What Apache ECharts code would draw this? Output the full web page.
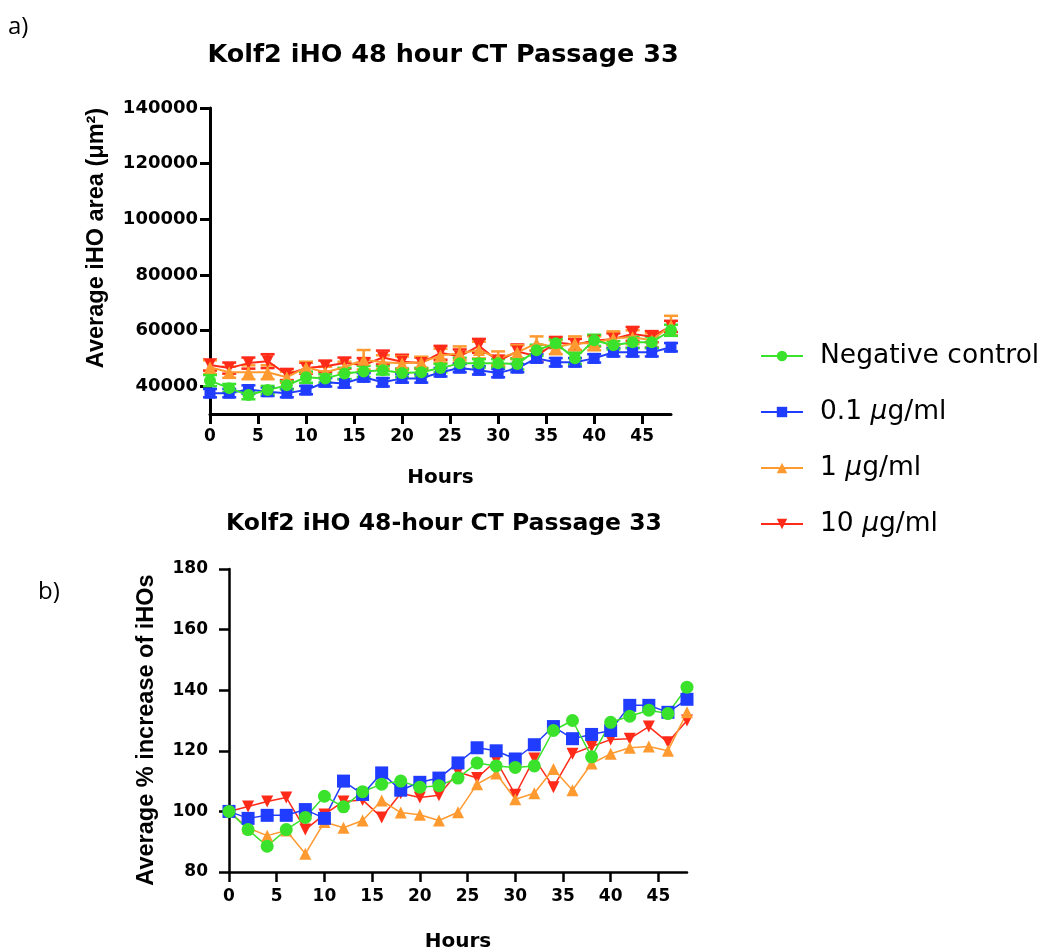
<!DOCTYPE html>
<html>
<head>
<meta charset="utf-8">
<script src="https://cdn.jsdelivr.net/npm/echarts@6/dist/echarts.min.js"></script>
<style>
html,body{margin:0;padding:0;background:#fff;}
#chart{width:1045px;height:952px;}
</style>
</head>
<body>
<div id="chart"></div>
<script>
// ---- data ----
const hours = [0,2,4,6,8,10,12,14,16,18,20,22,24,26,28,30,32,34,36,38,40,42,44,46,48];
const seriesNames = ['Negative control', '0.1 μg/ml', '1 μg/ml', '10 μg/ml'];
const xTicks = [0,5,10,15,20,25,30,35,40,45];
const areaTicks = [40000,60000,80000,100000,120000,140000];
const pctTicks = [80,100,120,140,160,180];

// a) average iHO area (µm²)
const areaNeg  = [42000,39300,36800,38600,40300,43200,42800,44600,45300,45700,44700,45000,46500,48200,48200,48200,48000,52900,55400,50000,56500,54700,55800,55800,60100];
const areaLow  = [37500,37500,38800,38000,37500,38600,41400,41000,43200,41400,42800,42800,45000,46500,45700,44700,46500,50000,48600,48600,50000,52200,52200,52200,54000];
const areaMid  = [46800,45000,45000,45000,43200,46800,45000,46800,49500,48600,48200,48600,51000,51800,53000,50000,52200,55400,54000,55400,55400,57200,57600,56500,61800];
const areaHigh = [47600,46500,48300,49000,44200,46500,47200,48300,47600,50300,48800,48300,52000,50700,54500,49000,52500,50800,55700,55000,56300,57000,58800,57800,61500];
// error bars (SEM) for a)
const errNeg  = [2000,1500,1500,1500,1500,2000,1500,2000,2000,1500,1500,1500,1500,2000,1500,1500,2000,2000,1500,2000,2000,1500,2000,2000,2000];
const errLow  = [1500,1500,1500,1500,1500,1500,1500,1500,1500,1500,1500,1500,1500,1500,1500,1500,1500,1500,1500,1500,1500,1500,1500,1500,1500];
const errMid  = [2500,2000,2500,2500,2000,2000,2000,2000,3500,2500,2500,2000,2500,2500,3000,2500,2500,2500,2500,2500,2500,2500,2500,2500,3500];
const errHigh = [2000,2000,2000,2500,2000,2000,2000,2000,2500,2500,2500,2000,2500,2500,2500,2000,2500,2000,2000,2000,2000,2000,2500,2000,2000];

// b) average % increase of iHOs
const pctNeg  = [100,94,88.5,94,98,105,101.5,106.5,109,110,108,108.5,111,116,115,114.5,115,126.7,130,118,129.4,131.4,133.4,132.3,141];
const pctLow  = [100,97.7,98.7,98.7,100.6,97.7,110,105.6,112.7,107,109.6,111,116,121,120,117.3,122,128,124,125.4,126.7,135,135,132.7,137];
const pctMid  = [100,94.5,92,93.7,86,96.5,94.6,97,103.6,99.6,98.9,97,99.7,109,112.5,104,106,114,107,115.8,119,121,121.4,120,132.7];
const pctHigh = [100,101.6,103.3,104.6,94,99,103.3,103.8,98,106,104.6,105.3,113,111,116.8,105.5,117.5,108,119,121.4,123.7,124,128,122.8,130];

// ---- styling ----
const colors = { neg:'#3be22c', low:'#1f3cff', mid:'#ff9a30', high:'#ff2a18' };
const FONT = 'Liberation Sans, Arial, sans-serif';
const WIDE = '"DejaVu Sans", sans-serif';

const pair = (vals) => hours.map((h,i) => [h, vals[i]]);
const triple = (vals, errs) => hours.map((h,i) => [h, vals[i], errs[i]]);

function errSeries(name, vals, errs, color){
  return {
    type:'custom', name: name + ' SEM', xAxisIndex:0, yAxisIndex:0, z:1,
    data: triple(vals, errs),
    renderItem: function(params, api){
      const x = api.value(0), y = api.value(1), e = api.value(2);
      const t = api.coord([x, y + e]);
      const b = api.coord([x, y - e]);
      const w = 7;
      const st = { stroke: color, lineWidth: 2.5 };
      return { type:'group', children:[
        {type:'line', shape:{x1:t[0],y1:t[1],x2:b[0],y2:b[1]}, style:st},
        {type:'line', shape:{x1:t[0]-w,y1:t[1],x2:t[0]+w,y2:t[1]}, style:st},
        {type:'line', shape:{x1:b[0]-w,y1:b[1],x2:b[0]+w,y2:b[1]}, style:st}
      ]};
    }
  };
}

function lineSeries(name, vals, color, symbol, axis, opts){
  return Object.assign({
    type:'line', name:name, xAxisIndex:axis, yAxisIndex:axis,
    data: pair(vals), symbol: symbol, showAllSymbol:true,
    color: color,
    lineStyle:{ color: color, width: axis === 0 ? 2 : 1.5 },
    itemStyle:{ color: color },
    emphasis:{ disabled:true },
    animation:false, z:2
  }, opts || {});
}

const axisLineStyle = { color:'#000', width:3 };
const plain = (v) => String(v);

const option = {
  animation:false,
  backgroundColor:'#fff',
  title:[
    { text:'Kolf2 iHO 48 hour CT Passage 33', left:438, top:37, textAlign:'center',
      textStyle:{ fontFamily:WIDE, fontWeight:'bold', fontSize:25.5, color:'#000' } },
    { text:'Kolf2 iHO 48-hour CT Passage 33', left:439, top:507, textAlign:'center',
      textStyle:{ fontFamily:WIDE, fontWeight:'bold', fontSize:23.5, color:'#000' } }
  ],
  graphic:[
    { type:'text', left:8, top:15, style:{ text:'a)', font:'24px "Open Sans", sans-serif', fill:'#000' } },
    { type:'text', left:38, top:580, style:{ text:'b)', font:'24px "Open Sans", sans-serif', fill:'#000' } },
    { type:'text', x:97, y:238, rotation:Math.PI/2,
      style:{ text:'Average iHO area (μm²)', font:'bold 23.5px ' + FONT, fill:'#000', align:'center', verticalAlign:'middle' } },
    { type:'text', x:147, y:730, rotation:Math.PI/2,
      style:{ text:'Average % increase of iHOs', font:'bold 23.5px ' + FONT, fill:'#000', align:'center', verticalAlign:'middle' } }
  ],
  legend:{
    data: seriesNames,
    orient:'vertical', left:755, top:336,
    itemWidth:42, itemHeight:13, itemGap:26,
    textStyle:{ fontFamily:WIDE, fontSize:26.5, color:'#000', lineHeight:30, padding:[0,0,0,12],
      rich:{ i:{ fontStyle:'italic', fontFamily:WIDE, fontSize:26.5, color:'#000' } } },
    formatter: function(n){ return n.replace('μ', '{i|μ}'); },
    selectedMode:false
  },
  grid:[
    { left:210, top:108, width:461, height:306, containLabel:false, outerBoundsMode:'none' },
    { left:229, top:569, width:458, height:303, containLabel:false, outerBoundsMode:'none' }
  ],
  xAxis:[
    { type:'value', gridIndex:0, min:0, max:48,
      name:'Hours', nameLocation:'middle', nameGap:54,
      nameTextStyle:{ fontFamily:WIDE, fontWeight:'bold', fontSize:20, color:'#000' },
      axisLine:{ show:true, lineStyle:axisLineStyle },
      axisTick:{ show:true, length:10, lineStyle:axisLineStyle, customValues: xTicks },
      axisLabel:{ fontSize:17, margin:14, customValues: xTicks, color:'#000', fontFamily:WIDE, fontWeight:'bold', formatter:plain },
      splitLine:{ show:false } },
    { type:'value', gridIndex:1, min:0, max:48,
      name:'Hours', nameLocation:'middle', nameGap:60,
      nameTextStyle:{ fontFamily:WIDE, fontWeight:'bold', fontSize:20, color:'#000' },
      axisLine:{ show:true, lineStyle:{ color:'#000', width:2.5 } },
      axisTick:{ show:true, length:10, lineStyle:{ color:'#000', width:2.5 }, customValues: xTicks },
      axisLabel:{ fontSize:17, margin:16, customValues: xTicks, color:'#000', fontFamily:WIDE, fontWeight:'bold', formatter:plain },
      splitLine:{ show:false } }
  ],
  yAxis:[
    { type:'value', gridIndex:0, min:30000, max:140000,
      axisLine:{ show:true, lineStyle:axisLineStyle },
      axisTick:{ show:true, length:10, lineStyle:axisLineStyle, customValues: areaTicks },
      axisLabel:{ fontSize:18, margin:12, customValues: areaTicks, color:'#000', fontFamily:WIDE, fontWeight:'bold', formatter:plain },
      splitLine:{ show:false } },
    { type:'value', gridIndex:1, min:80, max:180, interval:20,
      axisLine:{ show:true, lineStyle:{ color:'#000', width:2.5 } },
      axisTick:{ show:true, length:10, lineStyle:{ color:'#000', width:2.5 }, customValues: pctTicks },
      axisLabel:{ fontSize:17, margin:21, customValues: pctTicks, color:'#000', fontFamily:WIDE, fontWeight:'bold', formatter:plain },
      splitLine:{ show:false } }
  ],
  series:[
    errSeries(seriesNames[3], areaHigh, errHigh, colors.high),
    errSeries(seriesNames[2], areaMid, errMid, colors.mid),
    errSeries(seriesNames[1], areaLow, errLow, colors.low),
    errSeries(seriesNames[0], areaNeg, errNeg, colors.neg),
    lineSeries(seriesNames[3], areaHigh, colors.high, 'triangle', 0, { symbolSize:12, symbolRotate:180 }),
    lineSeries(seriesNames[2], areaMid, colors.mid, 'triangle', 0, { symbolSize:12 }),
    lineSeries(seriesNames[1], areaLow, colors.low, 'rect', 0, { symbolSize:11 }),
    lineSeries(seriesNames[0], areaNeg, colors.neg, 'circle', 0, { symbolSize:12 }),
    lineSeries(seriesNames[3], pctHigh, colors.high, 'triangle', 1, { symbolSize:12, symbolRotate:180 }),
    lineSeries(seriesNames[2], pctMid, colors.mid, 'triangle', 1, { symbolSize:12 }),
    lineSeries(seriesNames[1], pctLow, colors.low, 'rect', 1, { symbolSize:13 }),
    lineSeries(seriesNames[0], pctNeg, colors.neg, 'circle', 1, { symbolSize:13 })
  ]
};

const chart = echarts.init(document.getElementById('chart'), null, { renderer:'canvas' });
chart.setOption(option);
</script>
</body>
</html>
